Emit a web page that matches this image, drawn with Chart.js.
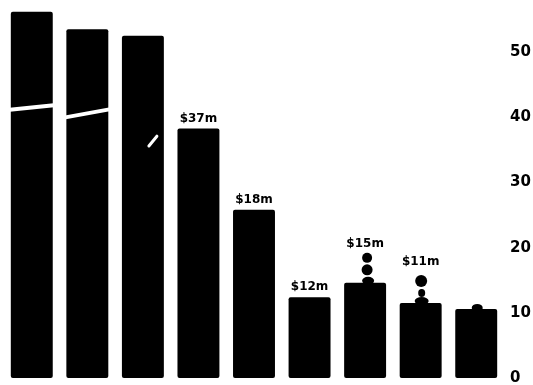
<!DOCTYPE html>
<html>
<head>
<meta charset="utf-8">
<script src="https://cdn.jsdelivr.net/npm/chart.js@4.4.0/dist/chart.umd.min.js"></script>
<style>
  html, body { margin: 0; padding: 0; background: #fff; }
  #wrap { width: 533px; height: 385px; }
</style>
</head>
<body>
<div id="wrap"><canvas id="chart"></canvas></div>
<script>
// Bar heights on the right-hand scale
const categories = ['1', '2', '3', '4', '5', '6', '7', '8', '9'];
const values = [56.2, 53.5, 52.5, 38.3, 25.8, 12.4, 14.6, 11.5, 10.6];
// Dollar figures printed above the bars ($m, null = no label)
const dollarLabels = [null, null, null, 37, 18, 12, 15, 11, null];
const yTicks = [0, 10, 20, 30, 40, 50];

// White slanted cuts across the tallest bars
const breakMarks = {
  id: 'breakMarks',
  afterDatasetsDraw(chart) {
    const { ctx, scales: { y } } = chart;
    const bars = chart.getDatasetMeta(0).data;
    ctx.save();
    ctx.strokeStyle = '#fff';
    ctx.lineWidth = 4;
    [[0, 41.5, 4.5], [1, 40.6, 8]].forEach(([i, at, rise]) => {
      const b = bars[i];
      const yc = y.getPixelForValue(at);
      ctx.beginPath();
      ctx.moveTo(b.x - b.width / 2 - 1, yc + rise / 2);
      ctx.lineTo(b.x + b.width / 2 + 1, yc - rise / 2);
      ctx.stroke();
    });
    // short nick on the third bar
    const b3 = bars[2];
    ctx.lineWidth = 3;
    ctx.lineCap = 'round';
    ctx.beginPath();
    ctx.moveTo(b3.x + 6, y.getPixelForValue(35.6));
    ctx.lineTo(b3.x + 14, y.getPixelForValue(37.1));
    ctx.stroke();
    ctx.restore();
  }
};

// Little figures sitting on top of the last bars
const icons = {
  6: { lift: 39, shapes: [[2, -25, 5, 5], [2, -13, 5.5, 5.5], [3, -2, 6, 4]] },
  7: { lift: 41, shapes: [[0.5, -22, 6, 6], [1, -10, 3.5, 4], [1, -2, 7, 4]] },
  8: { lift: 10, shapes: [[1, -1, 5.5, 4]] }
};

const barDecor = {
  id: 'barDecor',
  afterDatasetsDraw(chart) {
    const { ctx } = chart;
    const bars = chart.getDatasetMeta(0).data;
    ctx.save();
    ctx.fillStyle = '#000';
    bars.forEach((b, i) => {
      const icon = icons[i];
      if (icon) {
        icon.shapes.forEach(([dx, dy, rx, ry]) => {
          ctx.beginPath();
          ctx.ellipse(b.x + dx, b.y + dy, rx, ry, 0, 0, Math.PI * 2);
          ctx.fill();
        });
      }
      const v = dollarLabels[i];
      if (v == null) return;
      const lift = icon ? icon.lift : 10;
      ctx.font = 'bold 12px "DejaVu Sans"';
      ctx.textAlign = 'center';
      ctx.textBaseline = 'middle';
      ctx.fillText('$' + v + 'm', b.x, b.y - lift);
    });
    ctx.restore();
  }
};

new Chart(document.getElementById('chart'), {
  type: 'bar',
  data: {
    labels: categories,
    datasets: [{
      data: values,
      backgroundColor: '#000',
      borderRadius: 2,
      borderSkipped: false,
      categoryPercentage: 1,
      barPercentage: 0.755
    }]
  },
  options: {
    responsive: true,
    maintainAspectRatio: false,
    animation: false,
    layout: { padding: { left: 4, top: 0, right: 0, bottom: 7 } },
    plugins: { legend: { display: false }, tooltip: { enabled: false } },
    scales: {
      x: { display: false },
      y: {
        position: 'right',
        min: 0,
        max: 58,
        grid: { display: false, drawTicks: false },
        border: { display: false },
        afterBuildTicks(scale) {
          scale.ticks = yTicks.map(v => ({ value: v }));
        },
        afterFit(scale) {
          scale.width = 29;
          scale.paddingTop = 0;
          scale.paddingBottom = 0;
        },
        ticks: {
          padding: 6,
          color: '#000',
          font: { family: '"DejaVu Sans"', size: 15, weight: 'bold' }
        }
      }
    }
  },
  plugins: [breakMarks, barDecor]
});
</script>
</body>
</html>
